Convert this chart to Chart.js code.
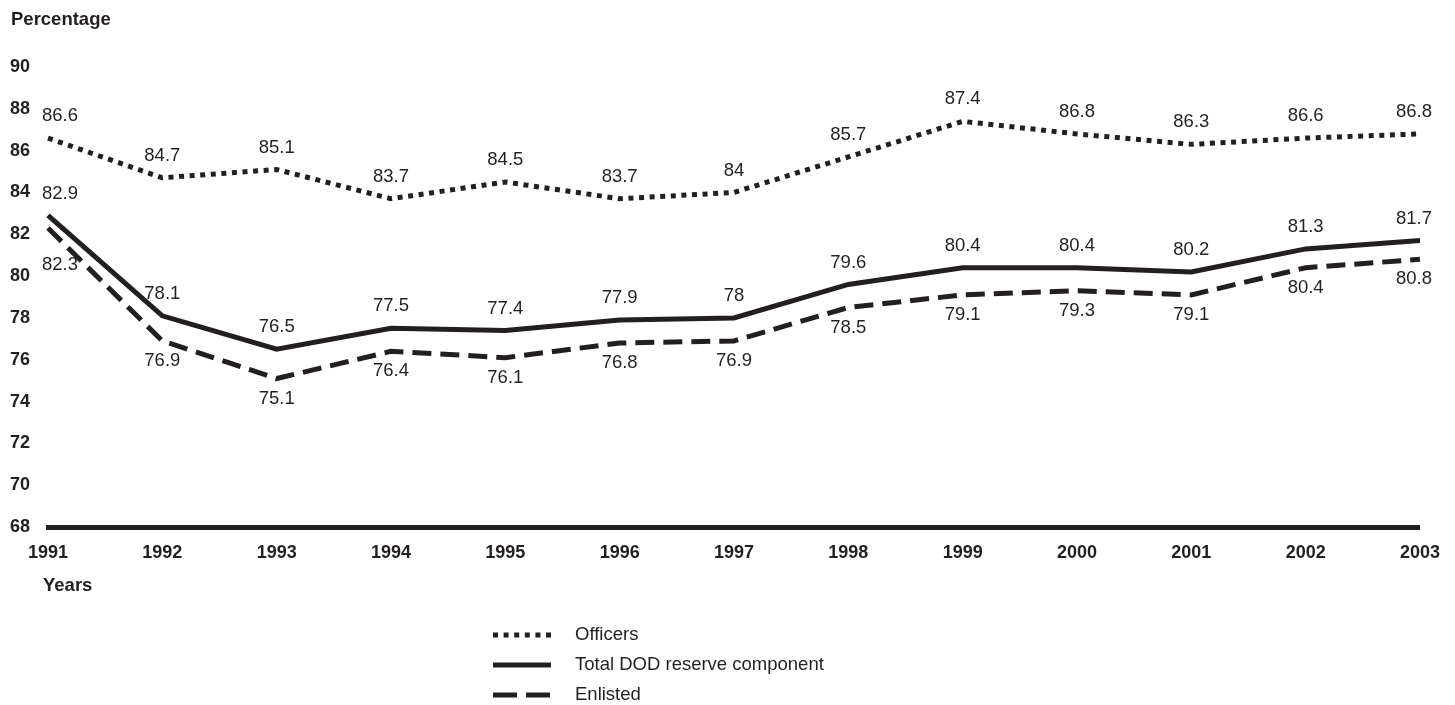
<!DOCTYPE html>
<html>
<head>
<meta charset="utf-8">
<script src="https://cdn.jsdelivr.net/npm/chart.js@4.4.1/dist/chart.umd.min.js"></script>
<style>
  html, body { margin: 0; padding: 0; background: #ffffff; }
  #wrap { width: 1455px; height: 705px; position: relative; }
</style>
</head>
<body>
<div id="wrap"><canvas id="chart"></canvas></div>
<script>
// Chart data
const years = ['1991', '1992', '1993', '1994', '1995', '1996', '1997', '1998', '1999', '2000', '2001', '2002', '2003'];
const officers = [86.6, 84.7, 85.1, 83.7, 84.5, 83.7, 84, 85.7, 87.4, 86.8, 86.3, 86.6, 86.8];
const totalDod = [82.9, 78.1, 76.5, 77.5, 77.4, 77.9, 78, 79.6, 80.4, 80.4, 80.2, 81.3, 81.7];
const enlisted = [82.3, 76.9, 75.1, 76.4, 76.1, 76.8, 76.9, 78.5, 79.1, 79.3, 79.1, 80.4, 80.8];
const yTicks = [68, 70, 72, 74, 76, 78, 80, 82, 84, 86, 88, 90];

const ink = '#231f20';
const font = "'Liberation Sans', Arial, sans-serif";

// value labels + axis captions + vertical legend
const annotate = {
    id: 'annotate',
    afterDatasetsDraw(chart) {
        const ctx = chart.ctx;
        ctx.save();
        ctx.fillStyle = ink;
        ctx.font = '18.5px ' + font;
        ctx.textBaseline = 'middle';
        chart.data.datasets.forEach((ds, di) => {
            const meta = chart.getDatasetMeta(di);
            const last = meta.data.length - 1;
            meta.data.forEach((pt, i) => {
                let x = pt.x;
                if (i === 0) x += 12;
                if (i === last) x -= 6;
                let dy = ds.labelBelow ? 20 : -22;
                if (ds.labelBelow && i === 0) dy = 37;
                ctx.textAlign = 'center';
                ctx.fillText(String(ds.data[i]), x, pt.y + dy);
            });
        });

        ctx.font = 'bold 18.5px ' + font;
        ctx.textAlign = 'left';
        ctx.fillText('Percentage', 11, 20);
        ctx.fillText('Years', 43, 586);

        // legend
        const rows = [635, 665, 695];
        ctx.font = '18.5px ' + font;
        chart.data.datasets.forEach((ds, di) => {
            const y = rows[di];
            ctx.save();
            ctx.strokeStyle = ds.borderColor;
            ctx.lineWidth = ds.borderWidth;
            ctx.lineCap = 'butt';
            ctx.setLineDash(ds.legendDash || []);
            ctx.beginPath();
            ctx.moveTo(493, y);
            ctx.lineTo(551, y);
            ctx.stroke();
            ctx.restore();
            ctx.fillText(ds.label, 575, y);
        });
        ctx.restore();
    }
};

new Chart(document.getElementById('chart'), {
    type: 'line',
    data: {
        labels: years,
        datasets: [
            {
                label: 'Officers',
                data: officers,
                borderColor: ink,
                borderWidth: 5,
                borderDash: [5, 5.6],
                legendDash: [5, 5.6],
                pointRadius: 0,
                tension: 0,
                fill: false
            },
            {
                label: 'Total DOD reserve component',
                data: totalDod,
                borderColor: ink,
                borderWidth: 5,
                pointRadius: 0,
                tension: 0,
                fill: false
            },
            {
                label: 'Enlisted',
                data: enlisted,
                borderColor: ink,
                borderWidth: 5,
                borderDash: [19, 9],
                legendDash: [24, 9],
                labelBelow: true,
                pointRadius: 0,
                tension: 0,
                fill: false
            }
        ]
    },
    options: {
        responsive: true,
        maintainAspectRatio: false,
        animation: false,
        devicePixelRatio: 1,
        layout: {
            padding: { top: 67, right: 31, bottom: 138, left: 10 }
        },
        plugins: {
            legend: { display: false },
            tooltip: { enabled: false },
            title: { display: false }
        },
        scales: {
            x: {
                grid: { display: false, drawTicks: false },
                border: { display: true, width: 5, color: ink },
                ticks: {
                    color: ink,
                    autoSkip: false,
                    maxRotation: 0,
                    padding: 15,
                    font: { size: 18, weight: 'bold', family: font }
                },
                afterFit: (scale) => { scale.height = 40; }
            },
            y: {
                min: 68,
                max: 90,
                afterBuildTicks: (scale) => { scale.ticks = yTicks.map(v => ({ value: v })); },
                grid: { display: false, drawTicks: false },
                border: { display: false },
                ticks: {
                    color: ink,
                    crossAlign: 'far',
                    padding: 20,
                    font: { size: 18, weight: 'bold', family: font }
                },
                afterFit: (scale) => { scale.width = 38; }
            }
        }
    },
    plugins: [annotate]
});
</script>
</body>
</html>
